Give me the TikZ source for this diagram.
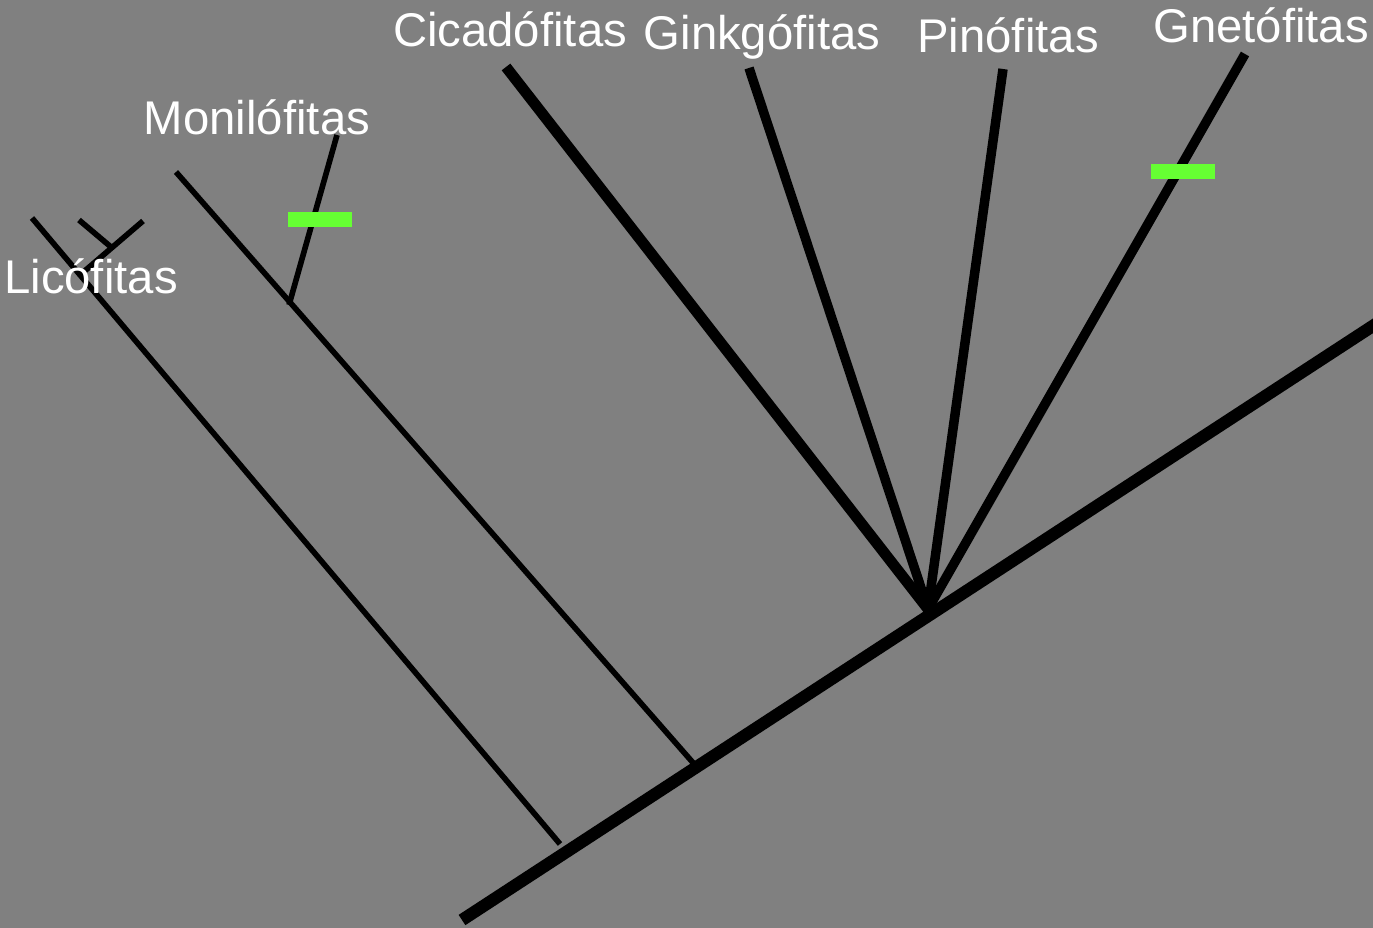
\documentclass[tikz,border=0pt]{standalone}
\usepackage{fontspec}
\setmainfont{Liberation Sans}
\begin{document}
\begin{tikzpicture}[x=0.01cm,y=-0.01cm,
  trunk/.style={line width=3.5pt,line cap=butt},
  seedline/.style={line width=2.7pt,line cap=butt},
  cycline/.style={line width=3.1pt,line cap=butt},
  thinline/.style={line width=1.6pt,line cap=butt},
  lbl/.style={text=white,anchor=base,inner sep=0pt,font=\fontsize{13.45pt}{15pt}\selectfont},
  synapo/.style={draw=none,minimum width=0.64cm,minimum height=0.15cm,inner sep=0pt}]
\definecolor{bggray}{HTML}{808080}
\definecolor{synapogreen}{HTML}{66FF33}
\fill[bggray] (0,0) rectangle (1373,928);
\useasboundingbox (0,0) rectangle (1373,928);
% coordinates
\coordinate (root) at (462,920);
\coordinate (tip) at (1385,318);
\coordinate (seedj) at (928,609);
\coordinate (monij) at (695,765);
\coordinate (licoend) at (560,844);
\coordinate (licotop) at (32,218);
\coordinate (licoj) at (80,275);
\coordinate (licoa) at (79,220);
\coordinate (licoaj) at (111,247);
\coordinate (licob) at (143,221);
\coordinate (monitop) at (176,172);
\coordinate (monib) at (289,305);
\coordinate (monibtop) at (337,135);
\coordinate (cyctop) at (506,67);
\coordinate (gintop) at (749,68);
\coordinate (pintop) at (1003,69);
\coordinate (gnetop) at (1245,54);
% lines
\draw[trunk] (root) -- (tip);
\draw[thinline] (licoend) -- (licotop);
\draw[thinline] (licoa) -- (licoaj);
\draw[thinline] (licob) -- (licoj);
\draw[thinline] (monij) -- (monitop);
\draw[thinline] (monib) -- (monibtop);
\draw[cycline] (seedj) -- (cyctop);
\draw[seedline] (seedj) -- (gintop);
\draw[seedline] (seedj) -- (pintop);
\draw[seedline] (seedj) -- (gnetop);
% synapomorphy bars
\node[synapo,fill=synapogreen] (barmoni) at (320,219.5) {};
\node[synapo,fill=synapogreen] (bargne) at (1183,172) {};
% labels
\node[lbl] (licolbl) at (91,294) {Licófitas};
\node[lbl] (monilbl) at (257,135) {Monilófitas};
\node[lbl] (cyclbl) at (510,47) {Cicadófitas};
\node[lbl] (ginlbl) at (762,50) {Ginkgófitas};
\node[lbl] (pinlbl) at (1008,53) {Pinófitas};
\node[lbl] (gnelbl) at (1261,43) {Gnetófitas};
\end{tikzpicture}
\end{document}
